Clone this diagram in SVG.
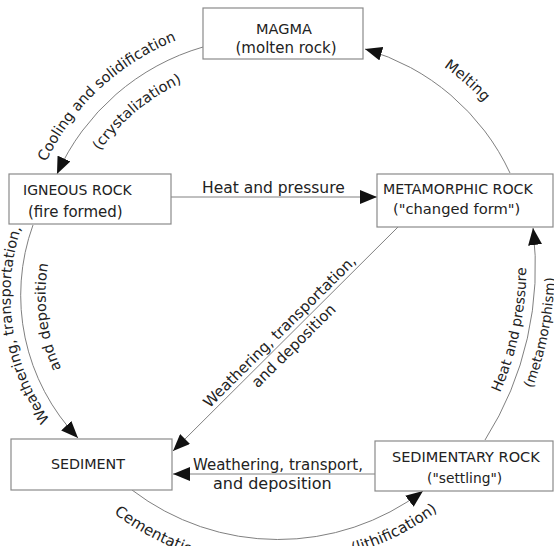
<svg xmlns="http://www.w3.org/2000/svg" width="554" height="546" viewBox="0 0 554 546">
<defs>
<style>
.box{fill:#fff;stroke:#8a8a8a;stroke-width:1.2}
.nt{font-family:"DejaVu Sans",sans-serif;font-size:14.5px;fill:#222}
.lb{font-family:"DejaVu Sans",sans-serif;font-size:15px;fill:#222}
.cv{font-family:"DejaVu Sans",sans-serif;font-size:14.5px;fill:#222}
.cn{fill:none;stroke:#808080;stroke-width:1;marker-end:url(#ah)}
.tp{fill:none;stroke:none}
</style>
<marker id="ah" markerUnits="userSpaceOnUse" markerWidth="17" markerHeight="14" refX="17" refY="7" orient="auto">
<path d="M0,0 L17,7 L0,14 z" fill="#111"/>
</marker>
<path id="p1" class="tp" d="M25.7,225.5 A245,245 0 0,1 241.4,24.3"/>
<path id="p2" class="tp" d="M70.1,214.5 A204,204 0 0,1 249.9,64.7"/>
<path id="p3" class="tp" d="M349.7,26.7 A248,248 0 0,1 536.3,190.1"/>
<path id="p4" class="tp" d="M83.5,457.2 A216.5,216.5 0 0,1 42.4,181.9"/>
<path id="p5" class="tp" d="M103.2,427.7 A181.5,181.5 0 0,1 74.8,196.2"/>
<path id="p6" class="tp" d="M446.2,476.2 A313.5,313.5 0 0,0 510.6,169.3"/>
<path id="p7" class="tp" d="M469.6,492.7 A342,342 0 0,0 536.6,157.4"/>
<path id="p8" class="tp" d="M113.9,513.3 A270,270 0 0,0 412.5,532.3"/>
<path id="p9" class="tp" d="M353.0,553.5 A266,266 0 0,0 507.9,431.5"/>
</defs>

<g id="connectors">
<path class="cn" d="M203,47 A230,230 0 0,0 57,174"/>
<path class="cn" d="M510,173 A230,230 0 0,0 365,49"/>
<path class="cn" d="M33,225 A206.5,206.5 0 0,0 78,438"/>
<path class="cn" d="M485,440 A322.7,322.7 0 0,0 533,228"/>
<path class="cn" d="M132,490 A240.5,240.5 0 0,0 423,491"/>
<path class="cn" d="M171,197 L377,197"/>
<path class="cn" d="M399,226 L173,451"/>
<path class="cn" d="M375,474 L173,474"/>
</g>

<g id="labels">
<text class="cv"><textPath href="#p1" startOffset="50%" text-anchor="middle">Cooling and solidification</textPath></text>
<text class="cv"><textPath href="#p2" startOffset="50%" text-anchor="middle">(crystalization)</textPath></text>
<text class="cv"><textPath href="#p3" startOffset="50%" text-anchor="middle">Melting</textPath></text>
<text class="cv" font-size="14"><textPath href="#p4" startOffset="50%" text-anchor="middle">Weathering, transportation,</textPath></text>
<text class="cv"><textPath href="#p5" startOffset="50%" text-anchor="middle">and deposition</textPath></text>
<text class="cv" style="font-size:14px"><textPath href="#p6" startOffset="50%" text-anchor="middle">Heat and pressure</textPath></text>
<text class="cv" style="font-size:13.5px"><textPath href="#p7" startOffset="50%" text-anchor="middle">(metamorphism)</textPath></text>
<text class="cv" style="font-size:15px"><textPath href="#p8" startOffset="0">Cementation</textPath></text>
<text class="cv" style="font-size:15px"><textPath href="#p9" startOffset="0">(lithification)</textPath></text>
<text class="lb" x="202" y="193" style="font-size:15.5px">Heat and pressure</text>
<g transform="translate(286,338) rotate(-44.8)">
<text class="lb" x="0" y="-4" text-anchor="middle">Weathering, transportation,</text>
<text class="lb" x="0" y="16" text-anchor="middle">and deposition</text>
</g>
<text class="lb" x="193" y="470">Weathering, transport,</text>
<text class="lb" x="213" y="489" style="font-size:16px">and deposition</text>
</g>

<g id="magma">
<rect class="box" x="203" y="8" width="160" height="51"/>
<text class="nt" x="284" y="34" text-anchor="middle">MAGMA</text>
<text class="nt" x="286" y="53" text-anchor="middle" style="font-size:15px">(molten rock)</text>
</g>
<g id="igneous">
<rect class="box" x="9" y="174" width="162" height="50"/>
<text class="nt" x="23" y="195" style="font-size:14px">IGNEOUS ROCK</text>
<text class="nt" x="28" y="217" style="font-size:15px">(fire formed)</text>
</g>
<g id="metamorphic">
<rect class="box" x="377" y="174" width="176" height="53"/>
<text class="nt" x="383" y="194" style="font-size:14.2px">METAMORPHIC ROCK</text>
<text class="nt" x="393" y="214" style="font-size:14.7px">("changed form")</text>
</g>
<g id="sediment">
<rect class="box" x="11" y="439" width="161" height="51"/>
<text class="nt" x="88" y="469" text-anchor="middle" style="font-size:14.3px">SEDIMENT</text>
</g>
<g id="sedimentary">
<rect class="box" x="375" y="441" width="178" height="50"/>
<text class="nt" x="392" y="462">SEDIMENTARY ROCK</text>
<text class="nt" x="427" y="483" style="font-size:13.8px">("settling")</text>
</g>
</svg>
